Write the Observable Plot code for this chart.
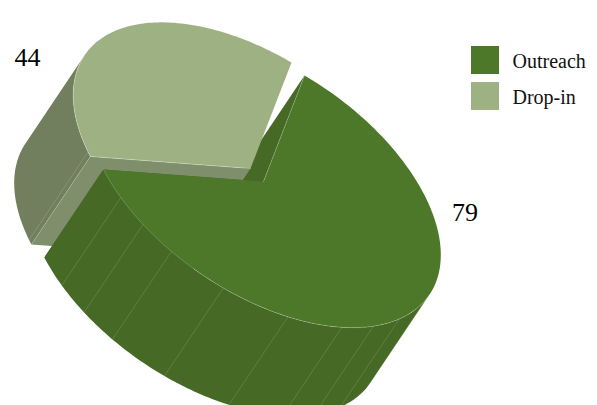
<!DOCTYPE html>
<html>
<head>
<meta charset="utf-8">
<style>html,body{margin:0;padding:0;background:#fff}svg{display:block}</style>
<script src="https://cdn.jsdelivr.net/npm/d3@7"></script>
<script src="https://cdn.jsdelivr.net/npm/@observablehq/plot@0.6"></script>
</head>
<body>
<div id="chart"></div>
<script>
// Chart values
const categories = ["Outreach", "Drop-in"];
const values = [79, 44];

// Panel seams around each slice's outer wall, in degrees from the slice start
const outreachSeams = [99.6, 116.6, 128.3, 140.4, 158.7, 179.7, 197.9, 209.4, 220.2];
const dropInSeams = [233];

// Colours: top face, outer wall, cut face
const topFill = ["#4d782a", "#9eb183"];
const wallFill = ["#466925", "#727f5e"];
const cutFill = ["#466925", "#808f6b"];
const edge = "#ffffff";

// Oblique projection of the pie disc onto the page
const axisU = [41, -106];
const axisV = [172.5, 100.63];
const depth = [-59, 88];
const apex = [[263, 181], [250, 168]];

// Label and legend placement
const labelAt = [[464.5, 212], [27, 57]];
const legendX = 471, legendY = [46, 82], swatch = 28, legendTextX = 512;

const W = 597, H = 405;
const total = d3.sum(values);
const split = 360 * values[0] / total;
const spans = [[0, split], [split, 360]];

const rad = d => d * Math.PI / 180;
const rim = (c, t) => ({
  x: c[0] + Math.cos(rad(t)) * axisU[0] + Math.sin(rad(t)) * axisV[0],
  y: c[1] + Math.cos(rad(t)) * axisU[1] + Math.sin(rad(t)) * axisV[1]
});
const drop = p => ({x: p.x + depth[0], y: p.y + depth[1]});
const centre = c => ({x: c[0], y: c[1]});
const arc = (c, [a, b]) => d3.range(0, 121).map(i => rim(c, a + (b - a) * i / 120));

// Angle at which the rim runs parallel to the extrusion: the silhouette of the solid
const det = axisU[0] * axisV[1] - axisU[1] * axisV[0];
const du = (depth[0] * axisV[1] - depth[1] * axisV[0]) / det;
const dv = (axisU[0] * depth[1] - axisU[1] * depth[0]) / det;
const silhouette = (Math.atan2(-du, dv) * 180 / Math.PI + 360) % 180;

const topFace = i => [centre(apex[i]), ...arc(apex[i], spans[i])];
const wall = (i, span) => {
  const a = arc(apex[i], span);
  return [...a, ...a.map(drop).reverse()];
};
const cutFace = (i, t) => {
  const p = rim(apex[i], t), c = centre(apex[i]);
  return [c, p, drop(p), drop(c)];
};

const poly = (pts, fill) => Plot.line(pts, {x: "x", y: "y", fill, stroke: "none", clip: true});
const stroke = (pts, o = 0.4, w = 0.6) =>
  Plot.line(pts, {x: "x", y: "y", stroke: edge, strokeOpacity: o, strokeWidth: w, clip: true});
const seam = (i, t) => { const p = rim(apex[i], t); return stroke([p, drop(p)], 0.24, 0.6); };

const chart = Plot.plot({
  width: W, height: H,
  margin: 0,
  x: {domain: [0, W], range: [0, W], axis: null},
  y: {domain: [0, H], range: [0, H], axis: null},
  marks: [
    // far cut face of the large slice sits behind everything else
    poly(cutFace(0, spans[0][0]), cutFill[0]),
    // small slice
    poly(wall(1, [split, silhouette + 180]), wallFill[1]),
    poly(cutFace(1, spans[1][0]), cutFill[1]),
    ...dropInSeams.map(t => seam(1, t)),
    seam(1, spans[1][0]),
    poly(topFace(1), topFill[1]),
    stroke([centre(apex[1]), ...arc(apex[1], [spans[1][0], silhouette + 180])], 0.4, 0.7),
    // large slice
    poly(cutFace(0, spans[0][1]), cutFill[0]),
    poly(wall(0, [silhouette, split]), wallFill[0]),
    ...outreachSeams.map(t => seam(0, t)),
    poly(topFace(0), topFill[0]),
    stroke(arc(apex[0], [silhouette, split]), 0.34, 0.6),
    stroke([centre(apex[0]), rim(apex[0], 0)], 0.3, 0.6),
    // value labels
    Plot.text(values, {
      x: (d, i) => labelAt[i][0], y: (d, i) => labelAt[i][1], text: d => String(d),
      fontFamily: "Liberation Serif", fontSize: 26, fill: "#000", textAnchor: "middle", lineAnchor: "middle"
    }),
    // legend
    Plot.rect(categories, {
      x1: legendX, x2: legendX + swatch,
      y1: (d, i) => legendY[i], y2: (d, i) => legendY[i] + swatch,
      fill: (d, i) => topFill[i]
    }),
    Plot.text(categories, {
      x: legendTextX, y: (d, i) => legendY[i] + swatch / 2 + 1, text: d => d,
      fontFamily: "Liberation Serif", fontSize: 20, fill: "#111", textAnchor: "start", lineAnchor: "middle"
    })
  ]
});
document.getElementById("chart").append(chart);
</script>
</body>
</html>
